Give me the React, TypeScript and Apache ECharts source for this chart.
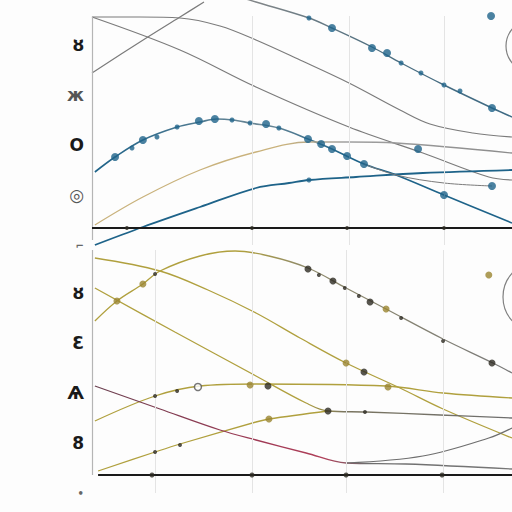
import React, { useEffect, useRef } from "react";
import * as echarts from "echarts";

// ---- top panel (x units: 32px, y units: 50px) ----
const topGrayA = [[0, 4.56], [1.5, 4.56], [2.75, 4.54], [4, 4.38], [5.125, 4.1], [6.5, 3.7], [8.03, 3.24], [9.625, 2.7], [10.56, 2.42], [11.9, 2.24], [13.125, 2.16]];
const topGrayB = [[0, 4.56], [2.75, 3.9], [5.125, 3.16], [8.03, 2.36], [10.34, 1.84], [12.4, 1.36], [13.125, 1.3]];
const topGrayC = [[0, 3.44], [1.5, 4.06], [2.75, 4.56], [3.5, 4.86]];
const topDesc = [[4.5, 4.98], [5.125, 4.86], [6.78, 4.54], [7.5, 4.34], [8.75, 3.96], [9.66, 3.64], [11, 3.2], [12.5, 2.74], [13.125, 2.56]];
const topBlueArc = [[0.09, 1.46], [0.72, 1.76], [1.59, 2.1], [2.66, 2.36], [3.375, 2.46], [3.9, 2.52], [4.4, 2.5], [4.94, 2.44], [5.84, 2.34], [6.75, 2.12], [7.5, 1.92], [8.5, 1.62], [9.5, 1.4], [11, 1.0], [13.125, 0.44]];
const topTan = [[0.09, 0.4], [1.59, 0.96], [3.375, 1.5], [5.125, 1.86], [6.78, 2.06], [8.03, 2.06], [9.5, 2.04], [13.125, 1.84]];
const topBlueLow = [[0.09, 0], [1.59, 0.36], [3.375, 0.76], [5.125, 1.14], [6.16, 1.24], [6.78, 1.3], [8.25, 1.36], [10.34, 1.44], [13.125, 1.5]];
const topBranch = [[8.5, 1.62], [9.5, 1.4], [11, 1.24], [12.5, 1.18]];
const topDotsLarge = [[0.72, 1.76], [1.59, 2.1], [3.34, 2.48], [3.84, 2.52], [5.44, 2.42], [6.75, 2.12], [7.16, 2.02], [7.5, 1.92], [7.97, 1.78], [8.5, 1.62], [11, 1.0], [10.19, 1.92], [12.5, 1.18], [7.5, 4.34], [8.75, 3.94], [9.22, 3.84], [12.5, 2.74], [12.47, 4.58]];
const topDotsSmall = [[1.25, 1.94], [2.03, 2.16], [2.66, 2.36], [4.375, 2.5], [4.94, 2.44], [5.84, 2.34], [6.78, 1.3], [6.78, 4.54], [9.66, 3.64], [10.28, 3.44], [11, 3.2], [11.5, 3.08]];
const topTicks = [[1.09, 0.34], [5, 0.34], [7.97, 0.34], [11, 0.34]];
const topGridX = [5, 8.03, 11];
const topBaseY = 0.34;
const topLabels = ["⌐", "◎", "O", "ж", "ȣ"];

// ---- bottom panel ----
const botPeak = [[0.09, 3.44], [0.78, 3.84], [1.59, 4.18], [2.125, 4.44], [3.375, 4.74], [4.47, 4.84], [5.53, 4.74], [6.75, 4.5], [7.94, 4.1], [9.19, 3.68], [10.97, 3.08], [12.53, 2.6], [13.125, 2.4]];
const botOliveA = [[0.09, 4.7], [2.125, 4.44], [3.625, 4.06], [5.125, 3.6], [6.5, 3.1], [7.94, 2.6], [9.625, 2.1], [10.97, 1.68], [13.125, 1.1]];
const botOliveB = [[0.09, 4.1], [2.59, 3.22], [5.125, 2.34], [6.69, 1.8], [7.375, 1.64], [8.56, 1.62], [10.875, 1.56], [13.125, 1.5]];
const botOliveC = [[0.09, 1.44], [1.97, 1.94], [3.375, 2.14], [5.125, 2.18], [9.19, 2.14], [10.97, 2.0], [13.125, 1.9]];
const botOliveD = [[0.19, 0.44], [1.97, 0.82], [2.75, 0.98], [5.125, 1.42], [5.53, 1.48], [7.375, 1.64]];
const botMaroon = [[0.09, 2.14], [2.125, 1.68], [4.0, 1.26], [5.125, 1.06], [6.69, 0.8], [7.94, 0.6], [9.81, 0.58], [13.125, 0.48]];
const botGrayRise = [[7.94, 0.6], [10.34, 0.74], [12.4, 1.1], [13.125, 1.3]];
const botDarkLarge = [[6.75, 4.48], [7.53, 4.24], [8.69, 3.82], [12.5, 2.6], [7.375, 1.64], [8.5, 2.42], [5.5, 2.14]];
const botDarkSmall = [[1.97, 4.38], [7.09, 4.36], [7.9, 4.1], [8.34, 3.94], [9.66, 3.5], [10.97, 3.04], [1.97, 1.94], [2.66, 2.04], [1.97, 0.82], [2.75, 0.96], [8.53, 1.62]];
const botOliveDots = [[1.59, 4.18], [0.78, 3.84], [9.19, 3.68], [12.4, 4.36], [4.94, 2.16], [9.25, 2.12], [5.53, 1.48], [7.94, 2.6]];
const botOpenDots = [[3.31, 2.12]];
const botTicks = [[1.875, 0.36], [5, 0.36], [7.94, 0.36], [10.94, 0.36]];
const botGridX = [1.97, 5, 7.94, 10.97];
const botBaseY = 0.36;
const botAxisStartX = 0.19;
const botLabels = ["•", "8", "Ѧ", "Ɛ", "ȣ"];

const GRAY = "#7b7b7b";
const BLUE = "#1e6389";
const TAN = "#c9b27c";
const OLIVE = "#b0a03e";
const DARK = "#2d2b22";

function hGrad(stops: [number, string][]) {
  return new echarts.graphic.LinearGradient(0, 0, 1, 0, stops.map(([offset, color]) => ({ offset, color })));
}

export default function App() {
  const ref = useRef<HTMLDivElement>(null);
  useEffect(() => {
    if (!ref.current) return;
    const chart = echarts.init(ref.current, null, { renderer: "svg" });
    const line = (data: number[][], idx: number, color: any, width = 1.2, extra: any = {}) => ({
      type: "line",
      data,
      xAxisIndex: idx,
      yAxisIndex: idx,
      smooth: 0.35,
      showSymbol: false,
      clip: false,
      silent: true,
      lineStyle: { color, width },
      ...extra,
    });
    const dots = (data: number[][], idx: number, color: string, size: number, extra: any = {}) => ({
      type: "scatter",
      data,
      xAxisIndex: idx,
      yAxisIndex: idx,
      symbolSize: size,
      clip: false,
      silent: true,
      itemStyle: { color },
      z: 5,
      ...extra,
    });
    const guides = (xs: number[], baseY: number, idx: number, startX: number, yTop: number, yBottom: number) => ({
      type: "line",
      data: [],
      xAxisIndex: idx,
      yAxisIndex: idx,
      silent: true,
      markLine: {
        symbol: "none",
        silent: true,
        label: { show: false },
        data: [
          ...xs.map((x) => ({ xAxis: x, lineStyle: { color: "#e4e4e4", width: 1, type: "solid" } })),
          [
            { coord: [0, yBottom], lineStyle: { color: "#b5b5b5", width: 1.2, type: "solid" } },
            { coord: [0, yTop] },
          ],
          [
            { coord: [startX, baseY], lineStyle: { color: "#1a1a1a", width: 2, type: "solid" } },
            { coord: [13.125, baseY] },
          ],
        ],
      },
    });
    const labelStyle = (labels: string[]) => ({
      fontFamily: "DejaVu Sans",
      fontSize: 17,
      fontWeight: "bold",
      color: "#1a1a1a",
      margin: 8,
      formatter: (v: number) => {
        const t = labels[Math.round(v)] ?? "";
        if (Math.round(v) === 0) return `{s|${t}}`;
        if (Math.round(v) === 1 && labels === topLabels) return `{g|${t}}`;
        if (Math.round(v) === 3 && labels === topLabels) return `{g|${t}}`;
        return t;
      },
      rich: {
        s: { fontSize: 10, color: "#666", fontFamily: "DejaVu Sans" },
        g: { fontSize: 17, color: "#555", fontFamily: "DejaVu Sans", fontWeight: "bold" },
      },
    });
    chart.setOption({
      animation: false,
      backgroundColor: "#fdfdfd",
      grid: [
        { left: 92, right: 0, top: 16, height: 229 },
        { left: 92, right: 0, top: 250, height: 243 },
      ],
      xAxis: [0, 1].map((i) => ({
        type: "value",
        gridIndex: i,
        min: 0,
        max: 13.125,
        axisLine: { show: false },
        axisTick: { show: false },
        axisLabel: { show: false },
        splitLine: { show: false },
      })),
      yAxis: [
        {
          type: "value",
          gridIndex: 0,
          min: 0,
          max: 4.58,
          interval: 1,
          axisLine: { show: false },
          axisTick: { show: false },
          splitLine: { show: false },
          axisLabel: labelStyle(topLabels),
        },
        {
          type: "value",
          gridIndex: 1,
          min: 0,
          max: 4.86,
          interval: 1,
          axisLine: { show: false },
          axisTick: { show: false },
          splitLine: { show: false },
          axisLabel: labelStyle(botLabels),
        },
      ],
      graphic: [
        { type: "ellipse", shape: { cx: 534, cy: 46, rx: 28, ry: 27 }, style: { fill: "none", stroke: "#808080", lineWidth: 1.2 } },
        { type: "ellipse", shape: { cx: 533, cy: 297, rx: 30, ry: 33 }, style: { fill: "none", stroke: "#808080", lineWidth: 1.2 } },
      ],
      series: [
        guides(topGridX, topBaseY, 0, 0, 4.58, 0.1),
        guides(botGridX, botBaseY, 1, botAxisStartX, 4.86, botBaseY),
        line(topGrayA, 0, GRAY),
        line(topGrayB, 0, GRAY),
        line(topGrayC, 0, GRAY),
        line(topDesc, 0, hGrad([[0, "#8a8a8a"], [0.5, "#4f6f80"], [1, "#3d6a84"]]), 1.4),
        line(topBlueArc, 0, hGrad([[0, BLUE], [0.4, "#6d8896"], [0.6, BLUE], [1, BLUE]]), 1.6),
        line(topTan, 0, hGrad([[0, TAN], [0.45, TAN], [0.6, "#a0a0a0"], [1, "#8c8c8c"]]), 1.3),
        line(topBlueLow, 0, BLUE, 1.8),
        line(topBranch, 0, GRAY, 1),
        dots(topDotsLarge, 0, BLUE, 8),
        dots(topDotsSmall, 0, BLUE, 5),
        dots(topTicks, 0, DARK, 4),
        line(botPeak, 1, hGrad([[0, OLIVE], [0.35, OLIVE], [0.5, "#8f8a6a"], [1, "#7a7a7a"]]), 1.3),
        line(botOliveA, 1, OLIVE, 1.3),
        line(botOliveB, 1, hGrad([[0, OLIVE], [0.5, OLIVE], [0.6, "#7a7560"], [1, "#6e6e6e"]]), 1.3),
        line(botOliveC, 1, OLIVE, 1.3),
        line(botOliveD, 1, OLIVE, 1.3),
        line(botMaroon, 1, hGrad([[0, "#6a4050"], [0.4, "#a03a55"], [0.55, "#b0405a"], [0.65, "#6e6e6e"], [1, "#777"]]), 1.3),
        line(botGrayRise, 1, "#6e6e6e", 1.2),
        dots(botDarkLarge, 1, DARK, 7),
        dots(botDarkSmall, 1, DARK, 4),
        dots(botOliveDots, 1, "#9a8530", 7),
        dots(botOpenDots, 1, "#fff", 7, { itemStyle: { color: "#fff", borderColor: "#555", borderWidth: 1.5 } }),
        dots(botTicks, 1, DARK, 5),
      ],
    });
    return () => chart.dispose();
  }, []);
  return <div ref={ref} style={{ position: "fixed", left: 0, top: 0, width: 512, height: 512 }} />;
}
